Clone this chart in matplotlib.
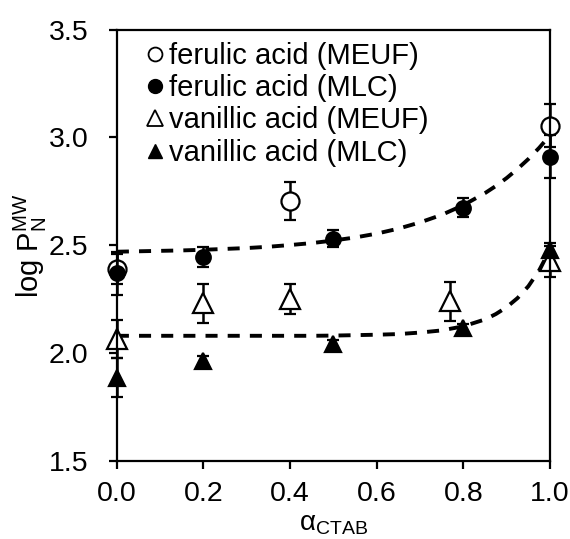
import numpy as np
import matplotlib
matplotlib.use("Agg")
import matplotlib.pyplot as plt
from matplotlib.lines import Line2D

plt.rcParams['font.family'] = ['Liberation Sans', 'DejaVu Sans']
plt.rcParams['mathtext.fontset'] = 'custom'
plt.rcParams['mathtext.rm'] = 'Liberation Sans'
plt.rcParams['mathtext.it'] = 'Liberation Sans:italic'

# ferulic acid
fer_meuf_x = [0.0, 0.4, 1.0]
fer_meuf_y = [2.39, 2.705, 3.055]
fer_meuf_err = [0.07, 0.09, 0.10]

fer_mlc_x = [0.0, 0.2, 0.5, 0.8, 1.0]
fer_mlc_y = [2.37, 2.445, 2.53, 2.675, 2.91]
fer_mlc_err = [0.10, 0.045, 0.04, 0.045, 0.10]

# vanillic acid
van_meuf_x = [0.0, 0.2, 0.4, 0.77, 1.0]
van_meuf_y = [2.065, 2.23, 2.25, 2.24, 2.425]
van_meuf_err = [0.09, 0.09, 0.07, 0.09, 0.07]

van_mlc_x = [0.0, 0.2, 0.5, 0.8, 1.0]
van_mlc_y = [1.885, 1.965, 2.04, 2.115, 2.48]
van_mlc_err = [0.09, 0.02, 0.02, 0.02, 0.03]

labels = ['ferulic acid (MEUF)', 'ferulic acid (MLC)',
          'vanillic acid (MEUF)', 'vanillic acid (MLC)']

# dashed trend curves
fit_x = [0.0, 0.05, 0.1, 0.15, 0.2, 0.25, 0.3, 0.35, 0.4, 0.45, 0.5, 0.55, 0.6,
         0.65, 0.7, 0.75, 0.8, 0.85, 0.875, 0.9, 0.925, 0.95, 0.975, 1.0]
fit_fer = [2.470, 2.472, 2.474, 2.476, 2.479, 2.483, 2.487, 2.493, 2.501, 2.510,
           2.522, 2.536, 2.554, 2.577, 2.606, 2.641, 2.686, 2.742, 2.775, 2.812,
           2.854, 2.900, 2.952, 3.010]
fit_van = [2.080, 2.080, 2.080, 2.080, 2.080, 2.080, 2.080, 2.080, 2.080, 2.080,
           2.081, 2.083, 2.085, 2.088, 2.095, 2.105, 2.124, 2.156, 2.181, 2.213,
           2.255, 2.310, 2.384, 2.480]

fig = plt.figure(figsize=(5.7, 5.39), dpi=100)
ax = fig.add_axes([0.205, 0.145, 0.76, 0.80])

ax.plot(fit_x, fit_fer, color='black', lw=2.8, ls=(0, (3.1, 2.6)), zorder=1)
ax.plot(fit_x, fit_van, color='black', lw=2.8, ls=(0, (3.1, 2.6)), zorder=1)

eb = dict(color='black', ecolor='black', elinewidth=1.8, capsize=4.5, capthick=1.8,
          linestyle='none')
for x, y, e, m, ms, fc, z in [
        (fer_meuf_x, fer_meuf_y, fer_meuf_err, 'o', 13, 'white', 2),
        (fer_mlc_x, fer_mlc_y, fer_mlc_err, 'o', 10.5, 'black', 3),
        (van_meuf_x, van_meuf_y, van_meuf_err, '^', 14, 'white', 2),
        (van_mlc_x, van_mlc_y, van_mlc_err, '^', 11, 'black', 3)]:
    lines = ax.errorbar(x, y, yerr=e, marker=m, ms=ms, mfc=fc, mec='black',
                        mew=1.6, zorder=z, **eb)
    for art in lines.get_children():
        art.set_clip_on(False)

ax.set_xlim(0, 1.0)
ax.set_ylim(1.5, 3.5)
ax.set_xticks([0.0, 0.2, 0.4, 0.6, 0.8, 1.0])
ax.set_yticks([1.5, 2.0, 2.5, 3.0, 3.5])
ax.xaxis.set_major_formatter(matplotlib.ticker.FormatStrFormatter('%.1f'))
ax.yaxis.set_major_formatter(matplotlib.ticker.FormatStrFormatter('%.1f'))
ax.tick_params(direction='out', length=5.5, width=1.6, labelsize=20.5)
ax.tick_params(axis='y', pad=15)
ax.tick_params(axis='x', pad=9)
for s in ax.spines.values():
    s.set_linewidth(1.6)

ax.set_xlabel(r'α$_\mathregular{CTAB}$', fontsize=20, labelpad=3)
ax.set_ylabel(r'log P$_\mathregular{N}^\mathregular{MW}$', fontsize=21, labelpad=0)

handles = [
    Line2D([], [], ls='none', marker='o', ms=10, mfc='white', mec='black', mew=1.3),
    Line2D([], [], ls='none', marker='o', ms=10, mfc='black', mec='black'),
    Line2D([], [], ls='none', marker='^', ms=11, mfc='white', mec='black', mew=1.3),
    Line2D([], [], ls='none', marker='^', ms=10, mfc='black', mec='black'),
]
ax.legend(handles, labels, loc='upper left', bbox_to_anchor=(0.061, 0.972),
          frameon=False, fontsize=21, handlelength=0.8, handletextpad=0.08,
          labelspacing=0.15, borderaxespad=0.0, borderpad=0.0)

fig.savefig('out.png', dpi=100)
